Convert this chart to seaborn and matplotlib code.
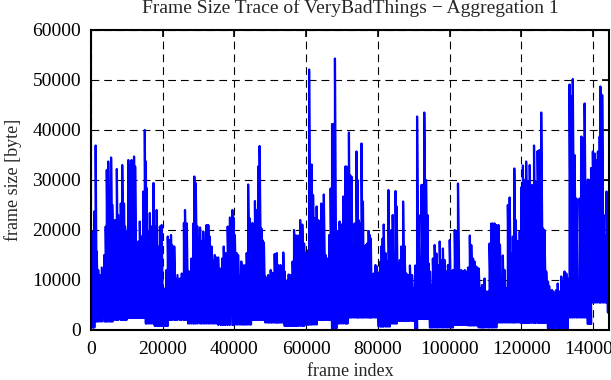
import numpy as np
import pandas as pd
import matplotlib
matplotlib.use('Agg')
import matplotlib.pyplot as plt
import seaborn as sns

# upper envelope of the trace (frame index in thousands, size in kbyte)
frame_k = [
    0.2, 0.65, 0.93, 1.3, 1.6, 2.0, 2.5, 3.0, 3.7, 4.1,
    4.4, 4.8, 5.3, 5.6, 6.0, 6.7, 7.2, 7.6, 8.3, 8.7,
    9.2, 9.5, 9.9, 10.4, 10.8, 11.3, 11.6, 12.0, 12.3, 12.7,
    13.2, 13.6, 14.1, 14.6, 15.0, 15.3, 15.5, 16.0, 16.4, 16.9,
    17.4, 17.8, 18.3, 18.7, 19.2, 19.7, 20.1, 20.6, 21.0, 21.4,
    21.8, 22.3, 22.6, 23.2, 23.6, 24.1, 24.8, 25.3, 25.9, 26.2,
    26.7, 27.1, 27.5, 28.0, 28.5, 28.8, 29.2, 29.7, 30.4, 30.8,
    31.3, 31.7, 32.2, 32.7, 33.1, 33.6, 34.1, 34.5, 35.0, 35.5,
    36.2, 36.6, 37.0, 37.5, 38.1, 38.7, 39.4, 39.7, 40.1, 40.6,
    41.0, 41.5, 41.9, 42.3, 42.7, 43.0, 43.4, 43.8, 44.3, 44.6,
    45.0, 45.4, 45.7, 46.1, 46.6, 47.0, 47.5, 47.8, 48.2, 48.6,
    49.0, 49.4, 49.7, 50.1, 50.4, 50.8, 51.2, 51.5, 51.8, 52.1,
    52.4, 52.8, 53.2, 53.6, 54.0, 54.5, 54.8, 55.1, 55.4, 55.7,
    56.2, 56.6, 57.1, 57.4, 57.7, 58.3, 58.9, 59.4, 59.9, 60.3,
    60.6, 60.8, 61.2, 61.5, 61.9, 62.4, 62.9, 63.3, 63.8, 64.2,
    64.6, 64.9, 65.4, 65.9, 66.4, 66.8, 67.2, 67.6, 68.0, 68.4,
    68.9, 69.3, 69.8, 70.3, 70.9, 71.2, 71.5, 71.9, 72.2, 72.6,
    73.1, 73.5, 74.0, 74.3, 74.6, 75.0, 75.4, 75.8, 76.1, 76.6,
    77.0, 77.4, 77.7, 78.0, 78.3, 78.8, 79.3, 79.7, 80.2, 80.7,
    81.0, 81.3, 81.6, 82.1, 82.5, 82.9, 83.3, 83.7, 84.1, 84.5,
    84.9, 85.2, 85.6, 86.1, 86.5, 87.0, 87.4, 87.9, 88.4, 88.9,
    89.5, 90.0, 90.4, 90.9, 91.3, 91.7, 92.1, 92.6, 92.9, 93.4,
    93.8, 94.1, 94.5, 94.9, 95.3, 95.8, 96.3, 96.7, 97.2, 97.7,
    98.1, 98.6, 99.1, 99.5, 100.0, 100.5, 100.9, 101.4, 101.8, 102.3,
    102.8, 103.2, 103.7, 104.2, 104.6, 105.1, 105.6, 106.0, 106.5, 106.9,
    107.4, 107.8, 108.1, 108.6, 109.0, 109.3, 109.7, 110.2, 110.7, 111.1,
    111.6, 112.0, 112.5, 113.0, 113.6, 114.0, 114.4, 114.8, 115.3, 115.8,
    116.2, 116.7, 117.2, 117.6, 118.0, 118.4, 119.0, 119.5, 119.9, 120.4,
    120.9, 121.3, 121.8, 122.3, 122.9, 123.5, 123.9, 124.5, 125.0, 125.5,
    126.0, 126.4, 126.9, 127.4, 127.8, 128.5, 129.0, 129.7, 130.1, 130.6,
    131.1, 131.5, 132.0, 132.5, 132.9, 133.4, 133.8, 134.3, 134.8, 135.3,
    135.7, 136.2, 136.7, 137.1, 137.6, 138.1, 138.5, 139.0, 139.4, 139.9,
    140.4, 140.8, 141.3, 141.8, 142.0, 142.5, 142.9, 143.3, 143.7, 144.1, 144.3,
]
peak_kb = [
    16.0, 19.7, 23.7, 36.9, 15.7, 12.0, 11.0, 12.5, 15.0, 20.7,
    32.0, 33.7, 24.7, 34.5, 25.0, 22.0, 32.2, 23.0, 25.3, 33.0,
    25.3, 20.7, 19.7, 34.0, 33.0, 34.0, 33.5, 34.7, 32.7, 15.7,
    17.7, 21.7, 18.7, 27.7, 40.0, 33.7, 28.4, 19.7, 23.4, 20.7,
    29.4, 20.8, 24.0, 16.7, 20.7, 21.0, 7.7, 8.3, 12.0, 18.7,
    18.0, 19.0, 17.0, 16.7, 10.3, 11.0, 10.3, 11.3, 21.4, 24.0,
    21.3, 11.7, 11.7, 14.3, 21.3, 30.7, 29.4, 20.7, 20.5, 17.7,
    19.7, 18.0, 21.0, 21.0, 18.7, 16.7, 14.0, 15.0, 14.5, 14.5,
    12.3, 14.3, 16.7, 15.4, 20.7, 22.5, 24.0, 22.5, 19.0, 15.4,
    15.0, 10.7, 13.7, 13.0, 12.7, 13.0, 15.4, 29.1, 22.3, 18.3,
    21.4, 21.0, 25.8, 24.0, 32.7, 36.8, 20.3, 18.0, 17.5, 10.7,
    9.5, 11.0, 10.0, 12.0, 11.5, 11.3, 15.2, 14.0, 15.4, 13.0,
    12.3, 13.0, 12.5, 15.5, 11.7, 7.7, 10.0, 11.1, 10.5, 11.0,
    13.7, 20.0, 18.9, 18.0, 18.9, 22.0, 21.1, 17.3, 15.4, 14.7,
    16.0, 52.1, 33.0, 33.1, 27.0, 22.3, 24.7, 22.0, 21.8, 25.3,
    24.0, 27.1, 15.0, 14.3, 19.0, 28.3, 41.2, 41.2, 54.3, 13.0,
    19.7, 21.7, 21.1, 26.7, 32.7, 32.7, 31.0, 39.5, 31.0, 30.7,
    17.0, 21.3, 35.7, 30.0, 22.0, 21.3, 37.3, 25.7, 15.3, 17.0,
    17.3, 19.8, 19.0, 18.3, 10.3, 11.3, 13.0, 12.7, 11.3, 13.7,
    16.8, 18.3, 21.1, 15.4, 13.7, 28.0, 13.3, 20.0, 23.0, 15.4,
    27.8, 24.7, 13.3, 14.0, 16.7, 25.7, 16.8, 11.3, 11.0, 12.9,
    11.0, 8.3, 12.9, 42.7, 23.0, 14.3, 29.0, 29.1, 43.5, 30.0,
    23.0, 13.3, 11.7, 9.0, 14.3, 17.0, 15.3, 13.0, 17.7, 14.0,
    16.3, 14.0, 11.7, 13.0, 18.0, 11.7, 12.0, 20.0, 19.7, 29.3,
    11.7, 12.0, 11.7, 12.0, 11.7, 12.5, 18.9, 17.0, 14.3, 13.7,
    12.7, 12.3, 12.3, 8.3, 9.0, 7.0, 10.3, 7.7, 7.7, 17.3,
    21.3, 21.3, 21.3, 21.0, 21.0, 17.1, 9.7, 14.9, 12.0, 8.3,
    25.0, 26.5, 15.4, 18.7, 32.3, 22.0, 17.8, 19.7, 28.5, 32.9,
    30.0, 33.7, 29.7, 33.0, 29.0, 36.9, 29.7, 35.8, 36.0, 43.5,
    20.3, 20.0, 11.7, 9.7, 8.7, 8.0, 7.7, 8.0, 9.3, 7.7,
    10.7, 9.7, 11.7, 11.3, 10.3, 49.1, 46.8, 50.2, 35.0, 26.3,
    9.0, 26.3, 38.7, 38.4, 45.3, 29.0, 30.1, 30.0, 32.4, 35.7,
    35.3, 34.0, 35.7, 38.7, 48.7, 47.0, 23.0, 19.0, 27.7, 9.7, 9.0,
]
# lower envelope, piecewise by stretch of frames (end of stretch in thousands, size in byte)
low_end_k = [1, 6, 10.3, 15, 17.7, 21.4, 27, 35.4, 40, 44.6, 48.4, 53.9,
             59.5, 63.1, 66.8, 68.7, 71.6, 79.9, 83.6, 85.5, 90.1, 91,
             94.2, 101.2, 104.9, 107.8, 113.3, 119.8, 127.2, 133.2, 138.3,
             139.7, 143.9, 145]
low_byte = [500, 1700, 2000, 2400, 1300, 800, 2000, 1300, 1000, 1100, 2000, 1500,
            800, 1100, 2000, 300, 1300, 2500, 700, 1300, 1800, 300,
            2200, 500, 1000, 900, 500, 1500, 1400, 300, 2500,
            1200, 5500, 3500]

x_ticks = [0, 20000, 40000, 60000, 80000, 100000, 120000, 140000]
y_ticks = [0, 10000, 20000, 30000, 40000, 50000, 60000]

frames = np.array(frame_k) * 1000
peaks = np.array(peak_kb) * 1000
lows = np.array(low_byte)[np.searchsorted(low_end_k, frame_k)]

# each column goes from its low to its peak, like the dense trace
trace = pd.DataFrame({
    'frame': np.repeat(frames, 2),
    'size': np.column_stack([lows, peaks]).ravel(),
})

sns.set_style('white')
plt.rcParams['font.family'] = ['Liberation Serif', 'DejaVu Serif']

fig = plt.figure(figsize=(6.11, 3.8), dpi=100)
ax = fig.add_axes([91 / 611, 50 / 380, 518 / 611, 300 / 380])

sns.lineplot(data=trace, x='frame', y='size', estimator=None, sort=False,
             color='blue', linewidth=1.6, ax=ax)

ax.set_xlim(0, 144400)
ax.set_ylim(0, 60000)
ax.set_xticks(x_ticks)
ax.set_xticklabels([str(t) for t in x_ticks])
ax.set_yticks(y_ticks)
ax.set_yticklabels([str(t) for t in y_ticks])
ax.grid(True, color='black', linestyle=(0, (7, 4.5)), linewidth=0.8)
ax.set_axisbelow(True)

for s in ax.spines.values():
    s.set_visible(True)
    s.set_color('black')
    s.set_linewidth(1.5)
ax.tick_params(direction='in', length=5, width=1.2, top=True, right=True,
               labelsize=14, colors='black')
ax.tick_params(axis='x', pad=8)
ax.tick_params(axis='y', pad=7)

ax.set_xlabel('frame index', fontsize=13)
ax.set_ylabel('frame size [byte]', fontsize=13)
ax.xaxis.set_label_coords(0.5, -0.11)
ax.yaxis.set_label_coords(-0.134, 0.5)
ax.set_title('Frame Size Trace of VeryBadThings \u2212 Aggregation 1', fontsize=14, pad=12)

fig.savefig('out.png', dpi=100)
